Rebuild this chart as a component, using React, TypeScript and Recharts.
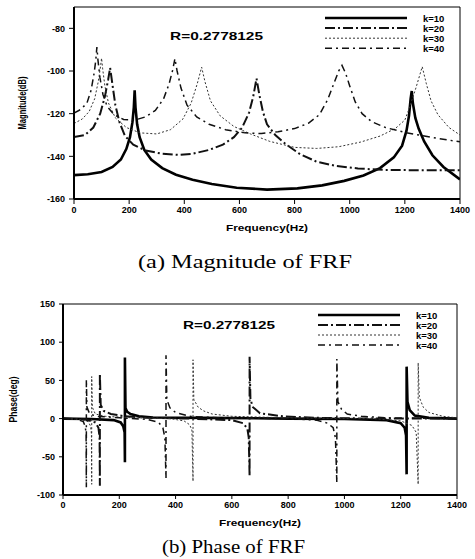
import React from 'react';
import { LineChart, Line, XAxis, YAxis, ReferenceArea, Legend } from 'recharts';

type Pt = [number, number];

const freqTicks = [0, 200, 400, 600, 800, 1000, 1200, 1400];
const magTicks = [-160, -140, -120, -100, -80];
const phaseTicks = [-100, -50, 0, 50, 100, 150];
const seriesNames = ['k=10', 'k=20', 'k=30', 'k=40'];
const rLabel = 'R=0.2778125';

// Magnitude (dB)
const k10Mag: Pt[] = [
  [0, -148.8], [50, -148.4], [100, -147.3], [140, -145], [170, -141.5], [190, -136.5], [203, -131],
  [212, -124], [217, -117], [220, -109], [223, -117], [229, -125], [238, -131], [255, -137],
  [280, -141.5], [320, -145.5], [370, -148.6], [430, -151], [500, -153], [590, -154.7], [700, -155.6],
  [810, -155], [900, -153.6], [980, -151.5], [1050, -149], [1110, -145.5], [1160, -140.5], [1190, -135],
  [1206, -128], [1215, -121], [1221, -113], [1225, -109.4], [1229, -115], [1238, -122], [1250, -127],
  [1270, -133], [1300, -139.5], [1340, -145], [1400, -150.8],
];
const k20Mag: Pt[] = [
  [0, -131], [40, -130], [70, -126.5], [95, -120], [112, -112], [124, -104], [131, -98.5], [138, -105],
  [150, -116], [165, -124], [185, -130.5], [215, -134.5], [260, -137.3], [320, -138.8], [380, -139.3],
  [430, -138.8], [490, -137], [540, -134.5], [580, -131], [610, -126.5], [635, -119.5], [650, -112],
  [662, -103.5], [672, -111], [685, -119], [700, -125], [730, -130], [770, -134.5], [820, -139],
  [880, -142.5], [950, -144.5], [1030, -145.7], [1130, -146.4], [1250, -146.5], [1400, -146.5],
];
const k30Mag: Pt[] = [
  [0, -124.6], [30, -122.5], [55, -119], [75, -113], [88, -105], [96, -98], [100, -94], [104, -99],
  [112, -107], [125, -115], [150, -122], [190, -126.5], [240, -129], [300, -129.5], [350, -127.5],
  [395, -122.5], [425, -115], [447, -106], [463, -98.2], [475, -105], [495, -114], [530, -121],
  [580, -126], [640, -129.5], [710, -133], [800, -135.8], [880, -136.3], [960, -135.5], [1040, -133.3],
  [1110, -130.5], [1165, -127], [1200, -123], [1213, -118.5], [1240, -108], [1263, -98], [1278, -106],
  [1295, -114], [1320, -120.5], [1360, -126.5], [1400, -130],
];
const k40Mag: Pt[] = [
  [0, -119.7], [25, -118], [47, -115], [62, -109], [73, -101], [79, -95], [83, -88.8], [87, -95],
  [94, -103], [105, -111], [120, -116.5], [145, -120.5], [180, -122.7], [220, -123], [260, -121.5],
  [295, -118.5], [325, -113], [345, -106], [358, -99.5], [366, -94.2], [374, -100], [388, -108],
  [410, -116], [445, -121.5], [490, -125], [550, -127.5], [620, -129], [680, -129.3], [740, -128.5],
  [800, -127], [850, -124.5], [890, -120.5], [920, -113.5], [945, -105], [960, -100], [972, -97.4],
  [985, -101], [1000, -107], [1020, -114.5], [1045, -120], [1080, -123.8], [1130, -126.5],
  [1200, -128.8], [1300, -131.2], [1400, -133.2],
];

// Phase (deg)
const k10Phase: Pt[] = [
  [0, 0], [100, -0.5], [180, -2], [205, -5], [214, -10], [219, -18], [220, -57], [220, 80], [222, 14],
  [228, 9], [240, 6], [270, 3], [320, 1.5], [500, 1], [800, 0], [1000, -0.5], [1150, -2], [1200, -6],
  [1214, -12], [1219, -22], [1221, -73], [1221, 68], [1224, 22], [1232, 11], [1250, 4], [1300, 1],
  [1400, 0],
];
const k20Phase: Pt[] = [
  [0, 0], [80, -1], [115, -5], [126, -12], [130, -25], [131, -88], [131, 59], [134, 18], [145, 10],
  [170, 6], [220, 3], [300, 1], [450, 0], [600, -2], [640, -6], [655, -13], [660, -25], [663, -75],
  [663, 81], [666, 25], [675, 15], [700, 7], [780, 3], [900, 1], [1100, 0], [1400, 0],
];
const k30Phase: Pt[] = [
  [0, 0], [60, -1], [90, -4], [98, -10], [101, -20], [102, -86], [102, 55], [104, 15], [115, 6],
  [150, 3], [250, 1], [380, 0], [430, -3], [450, -8], [458, -15], [462, -82], [462, 77], [465, 25],
  [480, 15], [500, 10], [530, 6], [600, 3], [800, 1], [1100, 0], [1200, -3], [1240, -9], [1255, -18],
  [1262, -86], [1262, 73], [1266, 28], [1280, 15], [1300, 8], [1350, 3], [1400, 1],
];
const k40Phase: Pt[] = [
  [0, 0], [50, -1], [72, -4], [79, -10], [82, -20], [83, -90], [83, 51], [85, 15], [95, 6], [120, 3],
  [200, 1], [300, -1], [340, -5], [355, -12], [362, -25], [366, -78], [366, 83], [369, 25], [380, 14],
  [400, 8], [450, 3], [550, 1], [800, 0], [900, -2], [940, -6], [960, -12], [968, -25], [973, -84],
  [973, 78], [977, 22], [990, 12], [1010, 6], [1060, 3], [1150, 1], [1400, 0],
];

const toPts = (a: Pt[]) => a.map(([f, v]) => ({ f, v }));

const FONT = '"Liberation Sans", Arial, Helvetica, sans-serif';
const SERIF = '"Liberation Serif", "Times New Roman", serif';

const STYLES = [
  { stroke: '#000', width: 2.6, dash: undefined as string | undefined },
  { stroke: '#111', width: 2, dash: '10 3 2 3' },
  { stroke: '#333', width: 1, dash: '2 2' },
  { stroke: '#111', width: 1.5, dash: '7 4 2 4' },
];

const magSeries = [k10Mag, k20Mag, k30Mag, k40Mag].map(toPts);
const phaseSeries = [k10Phase, k20Phase, k30Phase, k40Phase].map(toPts);

const tickStyle = { fontSize: 9, fontWeight: 'bold', fill: '#000', fontFamily: FONT };

function LegendContent({ spacing }: { spacing: number }) {
  return (
    <svg width={140} height={4 * spacing + 6} style={{ display: 'block' }}>
      {seriesNames.map((n, i) => {
        const s = STYLES[i];
        const y = 4 + i * spacing;
        return (
          <g key={n}>
            <line x1={0} x2={82} y1={y} y2={y} stroke={s.stroke} strokeWidth={s.width} strokeDasharray={s.dash} />
            <text x={98} y={y} dominantBaseline="central" fontSize={9.5} fontWeight="bold" fontFamily={FONT} fill="#000">
              {n}
            </text>
          </g>
        );
      })}
    </svg>
  );
}

const xLabel = (dy: number) => (props: any) => {
  const vb = props.viewBox || {};
  const cx = vb.x + vb.width / 2;
  const cy = vb.y + dy;
  return (
    <text x={cx} y={cy} textAnchor="middle" dominantBaseline="central" fontSize={9} fontWeight="bold"
      fontFamily={FONT} fill="#000" textLength={82} lengthAdjust="spacingAndGlyphs">
      Frequency(Hz)
    </text>
  );
};

const yLabel = (text: string, dx: number, len: number) => (props: any) => {
  const vb = props.viewBox || {};
  const cx = vb.x + dx;
  const cy = vb.y + vb.height / 2;
  return (
    <text x={cx} y={cy} transform={`rotate(-90 ${cx} ${cy})`} textAnchor="middle" dominantBaseline="central"
      fontSize={10} fontWeight="bold" fontFamily={FONT} fill="#000" textLength={len} lengthAdjust="spacingAndGlyphs">
      {text}
    </text>
  );
};

function renderLines(series: { f: number; v: number }[][]) {
  return series.map((d, i) => (
    <Line
      key={seriesNames[i]}
      data={d}
      dataKey="v"
      name={seriesNames[i]}
      type="linear"
      stroke={STYLES[i].stroke}
      strokeWidth={STYLES[i].width}
      strokeDasharray={STYLES[i].dash}
      dot={false}
      activeDot={false}
      isAnimationActive={false}
    />
  ));
}

function MagChart() {
  return (
    <LineChart width={475} height={245} margin={{ top: 7, right: 15, bottom: 0, left: 0 }}>
      <XAxis type="number" dataKey="f" domain={[0, 1400]} ticks={freqTicks} interval={0} height={46}
        tick={tickStyle} tickSize={5} tickMargin={3} axisLine={{ stroke: '#000', strokeWidth: 2 }}
        tickLine={{ stroke: '#000' }} allowDataOverflow label={{ content: xLabel(29) }} />
      <YAxis type="number" domain={[-160, -70]} ticks={magTicks} interval={0} width={74}
        tick={tickStyle} tickSize={5} tickMargin={4} axisLine={{ stroke: '#000', strokeWidth: 2 }}
        tickLine={{ stroke: '#000' }} allowDataOverflow label={{ content: yLabel('Magnitude(dB)', 22, 53) }} />
      <ReferenceArea x1={0} x2={1400} y1={-160} y2={-70} fill="none" stroke="#000" strokeWidth={1} />
      {renderLines(magSeries)}
      <Legend layout="horizontal" verticalAlign="middle" content={<LegendContent spacing={10.1} />}
        wrapperStyle={{ left: 325, top: 14, width: 140, height: 46 }} />
    </LineChart>
  );
}

function PhaseChart() {
  return (
    <LineChart width={475} height={245} margin={{ top: 14, right: 18, bottom: 0, left: 0 }}>
      <XAxis type="number" dataKey="f" domain={[0, 1400]} ticks={freqTicks} interval={0} height={40}
        tick={tickStyle} tickSize={4} tickMargin={3} axisLine={{ stroke: '#000', strokeWidth: 2 }}
        tickLine={{ stroke: '#000' }} allowDataOverflow label={{ content: xLabel(28) }} />
      <YAxis type="number" domain={[-100, 150]} ticks={phaseTicks} interval={0} width={63}
        tick={tickStyle} tickSize={4} tickMargin={4} axisLine={{ stroke: '#000', strokeWidth: 2 }}
        tickLine={{ stroke: '#000' }} allowDataOverflow label={{ content: yLabel('Phase(deg)', 13, 46) }} />
      <ReferenceArea x1={0} x2={1400} y1={-100} y2={150} fill="none" stroke="#000" strokeWidth={1} />
      {renderLines(phaseSeries)}
      <Legend layout="horizontal" verticalAlign="middle" content={<LegendContent spacing={10} />}
        wrapperStyle={{ left: 318, top: 21, width: 140, height: 46 }} />
    </LineChart>
  );
}

export default function App() {
  return (
    <div style={{ position: 'absolute', left: 0, top: 0, width: 475, height: 559, background: '#fff', overflow: 'hidden' }}>
      <div style={{ position: 'absolute', left: 0, top: 0 }}>
        <MagChart />
      </div>
      <div style={{ position: 'absolute', left: 0, top: 290 }}>
        <PhaseChart />
      </div>
      <svg width={475} height={559} style={{ position: 'absolute', left: 0, top: 0, pointerEvents: 'none' }}>
        <text x={170} y={36} dominantBaseline="central" fontSize={11} fontWeight="bold" fontFamily={FONT}
          textLength={93} lengthAdjust="spacingAndGlyphs" fill="#000">{rLabel}</text>
        <text x={183} y={325} dominantBaseline="central" fontSize={11} fontWeight="bold" fontFamily={FONT}
          textLength={92} lengthAdjust="spacingAndGlyphs" fill="#000">{rLabel}</text>
        <text x={138} y={268} fontSize={19} fontFamily={SERIF} textLength={214} lengthAdjust="spacingAndGlyphs"
          fill="#000">(a) Magnitude of FRF</text>
        <text x={162} y={553} fontSize={19} fontFamily={SERIF} textLength={143} lengthAdjust="spacingAndGlyphs"
          fill="#000">(b) Phase of FRF</text>
      </svg>
    </div>
  );
}
